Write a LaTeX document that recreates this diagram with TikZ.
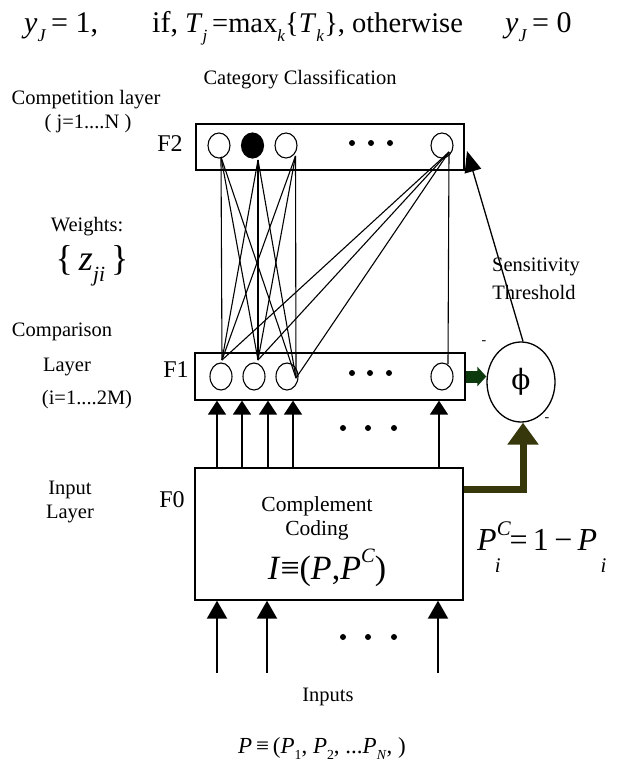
\documentclass[tikz,border=0pt]{standalone}
\usepackage{fontspec}
\setmainfont{Liberation Serif}
\newfontfamily\dvs{DejaVu Serif}
\usetikzlibrary{arrows.meta,shapes.geometric}
\newcommand\lo[1]{\raisebox{-0.3em}{\scalebox{0.6}{#1}}}
\newcommand\hi[1]{\raisebox{0.5em}{\scalebox{0.6}{#1}}}
\newcommand\fs[1]{\fontsize{#1}{#1}\selectfont}
\definecolor{dkgreen}{RGB}{12,58,12}
\definecolor{dkolive}{RGB}{55,55,12}
\begin{document}
\begin{tikzpicture}[x=1pt,y=-1pt,
  lbl/.style={inner sep=0pt, font=\fs{20.5}},
  flbl/.style={inner sep=0pt, font=\fs{24}},
  eq/.style={inner sep=0pt, anchor=base west, font=\fs{30}},
  layerbox/.style={draw, line width=1.3pt, rectangle, inner sep=0pt},
  unit/.style={draw, ellipse, line width=1.1pt, minimum width=22pt, minimum height=26pt, inner sep=0pt},
  wline/.style={line width=1.1pt},
  inarrow/.style={line width=1.6pt, -{Triangle[width=18pt,length=14pt]}},
  botarrow/.style={line width=2pt, -{Triangle[width=20pt,length=18pt]}},
]
\useasboundingbox[fill=white] (0,0) rectangle (616,765);

% top equation
\node[eq] (eqa) at (24,33) {\textit{y}\lo{\textit{J}}\,= 1,};
\node[eq] (eqb) at (152,33) {if,};
\node[eq, font=\fs{28.5}] (eqc) at (185,33) {\textit{T}\lo{\textit{j}}\,=max\lo{\textit{k}}\{\textit{T}\lo{\textit{k}}\}, otherwise};
\node[eq] (eqd) at (505,33) {\textit{y}\lo{\textit{J}}\,= 0};

% left labels
\node[lbl] (cat) at (300,79) {Category Classification};
\node[lbl] (comp) at (86,100) {Competition layer};
\node[lbl] (jn) at (88,124) {( j=1....N )};
\node[flbl] (f2l) at (170,144) {F2};
\node[lbl] (wts) at (87,227) {Weights:};
\node[inner sep=0pt, font=\fs{36}] (zji) at (92,266) {\{\,\textit{z}\lo{\textit{ji}}\,\}};
\node[lbl] (cmp) at (62,332) {Comparison};
\node[lbl] (lay) at (67,367) {Layer};
\node[lbl] (im) at (87,400) {(i=1....2M)};
\node[flbl] (f1l) at (176,370) {F1};
\node[lbl] (inl) at (70,490) {Input};
\node[lbl] (inl2) at (70,514) {Layer};
\node[flbl] (f0l) at (172,500) {F0};

% layer boxes
\node[layerbox, minimum width=268pt, minimum height=46pt] (F2box) at (330,147) {};
\node[layerbox, minimum width=270pt, minimum height=47pt] (F1box) at (330,376.5) {};
\node[layerbox, minimum width=268pt, minimum height=132pt] (F0box) at (329,534) {};

% F2 units
\node[unit, minimum height=25pt] (a1) at (219,145.5) {};
\node[unit, minimum height=25pt, fill=black] (a2) at (252.5,145.5) {};
\node[unit, minimum height=25pt] (a3) at (286,145.5) {};
\node[unit, minimum height=25pt] (a4) at (442,145.5) {};
\foreach \x in {352,371,390} \fill (\x,143) circle (3);

% F1 units
\node[unit, minimum height=27pt] (c1) at (221,376.5) {};
\node[unit, minimum height=27pt] (c2) at (254,376.5) {};
\node[unit, minimum height=27pt] (c3) at (287,376.5) {};
\node[unit, minimum height=27pt] (c4) at (442,376.5) {};
\foreach \x in {352,370,389} \fill (\x,373) circle (3);

% weight connections
\coordinate (t1) at (221,157);
\coordinate (t2) at (258,160);
\coordinate (t3) at (295.5,156);
\coordinate (t4) at (449,152);
\coordinate (b1) at (222,360);
\coordinate (b2) at (258,360);
\coordinate (b3) at (296,378);
\coordinate (b4) at (448,364);
\foreach \t in {t1,t2,t3,t4}
  \foreach \b in {b1,b2,b3}
    \draw[wline] (\t) -- (\b);
\draw[wline] (t4) -- (b4);

% F0 -> F1 arrows
\foreach \n/\x in {p1/217,p2/242,p3/268,p4/293,p5/439} {
  \coordinate (\n) at (\x,0);
  \draw[inarrow] (F0box.north -| \n) -- (F1box.south -| \n);
}
\foreach \x in {343,368,394} \fill (\x,428) circle (3);

% F0 text
\node[inner sep=0pt, font=\fs{21.5}] (cc1) at (317,506) {Complement};
\node[inner sep=0pt, font=\fs{21.5}] (cc2) at (317,530) {Coding};
\node[inner sep=0pt, font=\fs{34}] (cc3) at (327,568) {\textit{I}≡(\textit{P},\textit{P}\hi{\textit{C}})};

% inputs
\foreach \n/\x in {q1/217,q2/267,q3/438} {
  \coordinate (\n) at (\x,673);
  \draw[botarrow] (\n) -- (\n |- F0box.south);
}
\foreach \x in {343,368,394} \fill (\x,637) circle (3);
\node[inner sep=0pt, font=\fs{20.5}] (inputs) at (328,697) {Inputs};
\node[inner sep=0pt, anchor=base, font=\fs{23}] (pvec) at (322,753) {\textit{P}\,≡\,(\textit{P}\lo{1}, \textit{P}\lo{2}, ...\textit{P}\lo{\textit{N}}, )};

% vigilance unit
\node[draw, ellipse, line width=1.3pt, minimum width=68pt, minimum height=80pt, inner sep=0pt, font=\dvs\fs{28}] (phi) at (521,382) {ϕ};
\node[inner sep=0pt, font=\fs{14}] (m1) at (484,343) {-};
\node[inner sep=0pt, font=\fs{14}] (m2) at (547,420) {-};
\node[lbl] (sens) at (536,267) {Sensitivity};
\node[lbl] (thr) at (534,292) {Threshold};
\coordinate (reset) at (467,151);
\draw[line width=1.3pt, -{Triangle[width=17pt,length=21pt]}] ([xshift=2pt]phi.north) -- (reset);

% thick arrows
\draw[dkgreen, line width=12pt, -{Triangle[width=19pt,length=9pt]}] (F1box.east) -- (F1box.east -| phi.west);
\draw[dkolive, line width=7pt, -{Triangle[width=30pt,length=22pt]}] (F0box.north east) ++(0,22) -| ([xshift=2pt]phi.south);

% complement relation
\node[inner sep=0pt, anchor=base west, font=\fs{32}] (pc) at (477,550) {\textit{P}\raisebox{0.45em}{\scalebox{0.65}{\textit{C}}}\hspace{-16pt}\raisebox{-0.7em}{\scalebox{0.65}{\textit{i}}}\hspace{9pt}=\,1\,−\,\textit{P}\raisebox{-0.7em}{\scalebox{0.65}{\,\textit{i}}}};
\end{tikzpicture}
\end{document}
